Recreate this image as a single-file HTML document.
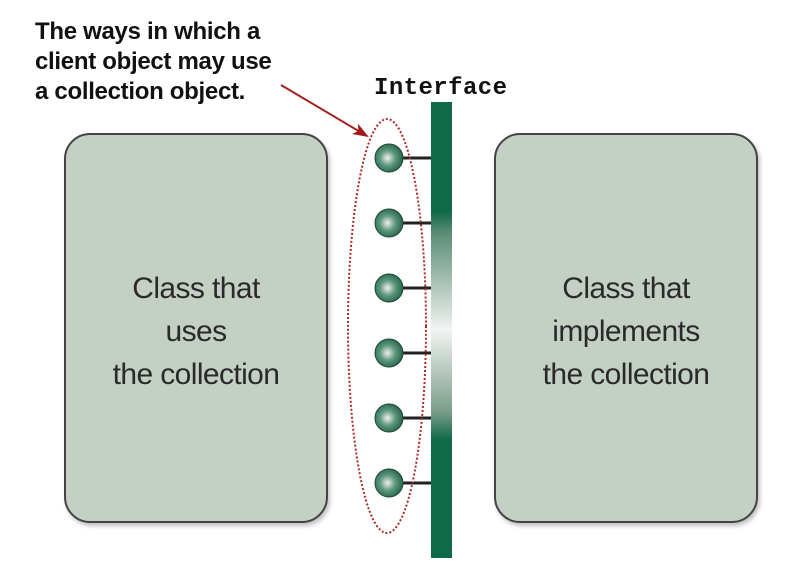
<!DOCTYPE html>
<html><head><style>
body{margin:0;width:810px;height:571px;background:#fff;overflow:hidden;position:relative;font-family:"Liberation Sans",sans-serif}
.note{position:absolute;left:35px;top:17px;font-weight:bold;font-size:24px;line-height:30px;color:#111;letter-spacing:-0.3px}
.box{position:absolute;top:133px;width:264px;height:390px;background:#c4d0c4;border:2px solid #444;border-radius:26px;box-shadow:2px 3px 4px rgba(0,0,0,.25);box-sizing:border-box}
.box div{position:absolute;left:0;right:0;top:132px;text-align:center;font-size:30px;line-height:43px;color:#2a2a2a;letter-spacing:-0.6px}
</style></head><body>
<div class="note">The ways in which a<br>client object may use<br>a collection object.</div>
<div class="box" style="left:64px"><div>Class that<br>uses<br>the collection</div></div>
<div class="box" style="left:494px"><div>Class that<br>implements<br>the collection</div></div>
<svg width="810" height="571" style="position:absolute;left:0;top:0">
<defs>
<linearGradient id="bar" x1="0" y1="0" x2="0" y2="1">
<stop offset="0" stop-color="#0e6a48"/><stop offset="0.24" stop-color="#0e6a48"/>
<stop offset="0.29" stop-color="#5e8e78"/><stop offset="0.5" stop-color="#f2f4f2"/>
<stop offset="0.68" stop-color="#7a9c8a"/><stop offset="0.74" stop-color="#0e6a48"/><stop offset="1" stop-color="#0e6a48"/>
</linearGradient>
<radialGradient id="ball" cx="0.45" cy="0.5" r="0.6">
<stop offset="0" stop-color="#f4eeee"/><stop offset="0.45" stop-color="#5f9a80"/><stop offset="1" stop-color="#1e5a40"/>
</radialGradient>
<marker id="ah" markerWidth="16" markerHeight="12" refX="14" refY="6" orient="auto" markerUnits="userSpaceOnUse"><path d="M0,0 L16,6 L0,12 L4,6 Z" fill="#a01818"/></marker>
</defs>
<text x="374" y="94" font-family="Liberation Mono,monospace" font-weight="bold" font-size="24" textLength="133" fill="#111">Interface</text>
<line x1="281" y1="85" x2="367" y2="136" stroke="#a52222" stroke-width="2" marker-end="url(#ah)"/>
<rect x="431" y="102" width="21" height="456" fill="url(#bar)"/>
<g stroke="#222" stroke-width="3">
<line x1="400" y1="158" x2="431" y2="158"/><line x1="400" y1="223" x2="431" y2="223"/>
<line x1="400" y1="288" x2="431" y2="288"/><line x1="400" y1="353" x2="431" y2="353"/>
<line x1="400" y1="418" x2="431" y2="418"/><line x1="400" y1="483" x2="431" y2="483"/>
</g>
<g fill="url(#ball)" stroke="#1e4a35" stroke-width="1">
<circle cx="389" cy="158" r="14"/><circle cx="389" cy="223" r="14"/><circle cx="389" cy="288" r="14"/>
<circle cx="389" cy="353" r="14"/><circle cx="389" cy="418" r="14"/><circle cx="389" cy="483" r="14"/>
</g>
<ellipse cx="387" cy="326" rx="39" ry="207" fill="none" stroke="#b02a2a" stroke-width="2" stroke-dasharray="2,2"/>
</svg>
</body></html>
